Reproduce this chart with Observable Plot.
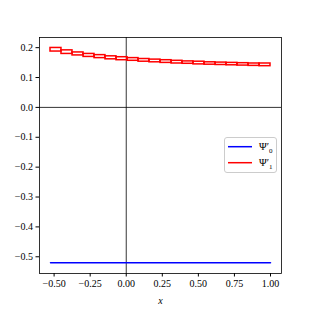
<!DOCTYPE html>
<html>
<head>
<meta charset="utf-8">
<script src="https://cdn.jsdelivr.net/npm/d3@7"></script>
<script src="https://cdn.jsdelivr.net/npm/@observablehq/plot@0.6"></script>
<style>
  body { margin: 0; background: #fff; }
  #wrap { position: relative; width: 313px; height: 313px; }
  #wrap svg.plot { font-family: "Liberation Serif", serif; font-size: 10px; }
  g[aria-label="x-axis label"] text { font-style: italic; }
  #legend { position: absolute; left: 224px; top: 137px; }
</style>
</head>
<body>
<div id="wrap"></div>
<script>
// Box edges along x
const xEdges = [-0.525, -0.449, -0.3725, -0.296, -0.22, -0.144, -0.0675, 0.009, 0.085, 0.161,
  0.2375, 0.314, 0.39, 0.466, 0.5425, 0.619, 0.695, 0.771, 0.8475, 0.924, 1.0];
// Ψ'_1 band: lower and upper values for each box
const psi1Low  = [0.187, 0.179, 0.174, 0.169, 0.165, 0.161, 0.158, 0.156, 0.153, 0.151,
  0.149, 0.147, 0.146, 0.144, 0.143, 0.142, 0.141, 0.140, 0.139, 0.138];
const psi1High = [0.199, 0.191, 0.184, 0.179, 0.175, 0.171, 0.168, 0.165, 0.162, 0.160,
  0.158, 0.156, 0.154, 0.153, 0.151, 0.150, 0.149, 0.148, 0.147, 0.147];
// Ψ'_0 constant values
const psi0 = xEdges.map(() => -0.52);
const xTicks = [-0.5, -0.25, 0, 0.25, 0.5, 0.75, 1.0];
const yTicks = [-0.5, -0.4, -0.3, -0.2, -0.1, 0.0, 0.1, 0.2];
const seriesSubs = ["0", "1"];
const seriesColors = ["#0000ff", "#ff0000"];

const boxes = psi1Low.map((lo, i) => ({x1: xEdges[i], x2: xEdges[i + 1], y1: lo, y2: psi1High[i]}));
const line0 = xEdges.map((x, i) => ({x, y: psi0[i]}));

const chart = Plot.plot({
  width: 313, height: 313,
  marginTop: 37, marginBottom: 40, marginLeft: 39, marginRight: 32,
  x: {domain: [-0.60125, 1.07625]},
  y: {domain: [-0.556, 0.234]},
  marks: [
    Plot.ruleX([0], {stroke: "#000", strokeWidth: 0.8}),
    Plot.ruleY([0], {stroke: "#000", strokeWidth: 0.8}),
    Plot.line(line0, {x: "x", y: "y", stroke: seriesColors[0], strokeWidth: 1.5}),
    Plot.rect(boxes, {x1: "x1", x2: "x2", y1: "y1", y2: "y2", fill: "none", stroke: seriesColors[1], strokeWidth: 1.5}),
    Plot.frame({stroke: "#000", strokeWidth: 0.8}),
    Plot.axisX({ticks: xTicks, tickFormat: d3.format(".2f"), tickSize: 3.5, tickPadding: 3,
      label: "x", labelAnchor: "center", labelArrow: "none", labelOffset: 30, color: "#000"}),
    Plot.axisY({ticks: yTicks, tickFormat: d3.format(".1f"), tickSize: 3.5, tickPadding: 3,
      label: null, color: "#000"})
  ]
});
chart.classList.add("plot");
document.getElementById("wrap").appendChild(chart);

// Legend
const ns = "http://www.w3.org/2000/svg";
const lg = document.createElementNS(ns, "svg");
lg.setAttribute("id", "legend");
lg.setAttribute("width", 54);
lg.setAttribute("height", 37);
lg.innerHTML = `<rect x="0.5" y="0.5" width="52" height="35" rx="2.5" fill="rgba(255,255,255,0.8)" stroke="#cccccc" stroke-width="1"/>`;
seriesSubs.forEach((s, i) => {
  const yy = 9.7 + i * 16;
  lg.innerHTML += `<line x1="4" x2="28" y1="${yy}" y2="${yy}" stroke="${seriesColors[i]}" stroke-width="1.5"/>` +
    `<text x="35" y="${yy + 3.5}" font-family="Liberation Serif, serif" font-size="10.5px">Ψ′<tspan font-size="7px" dy="2.5">${s}</tspan></text>`;
});
document.getElementById("wrap").appendChild(lg);
</script>
</body>
</html>
